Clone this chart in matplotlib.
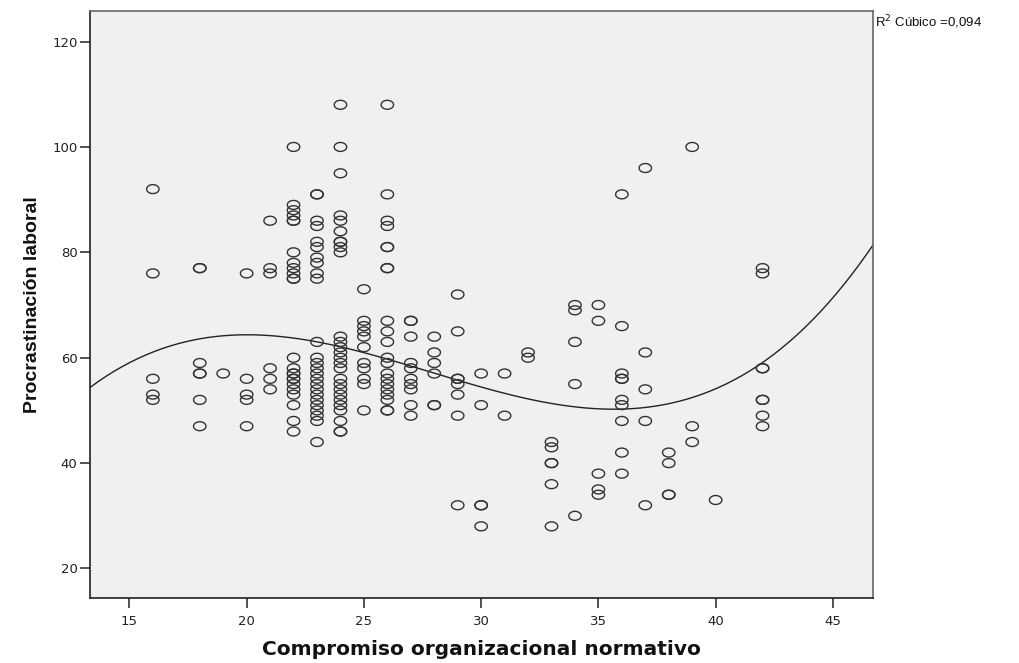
import numpy as np
import matplotlib
matplotlib.use("Agg")
import matplotlib.pyplot as plt
from matplotlib.path import Path

# ---- data ----
x16 = [92, 76, 56, 53, 52]
x18 = [77, 77, 59, 57, 57, 52, 47]
x19 = [57]
x20 = [76, 56, 53, 52, 47]
x21 = [86, 77, 76, 58, 56, 54]
x22 = [100, 89, 88, 87, 86, 86, 80, 78, 77, 76, 75, 75, 60, 58, 57, 57, 56, 56, 55, 54, 53, 51, 48, 46]
x23 = [91, 91, 86, 85, 82, 81, 79, 78, 76, 75, 63, 60, 59, 58, 57, 56, 55, 54, 53, 52, 51, 50, 49, 48, 44]
x24 = [108, 100, 95, 87, 86, 84, 82, 82, 81, 80, 64, 63, 62, 61, 60, 59, 58, 56, 55, 54, 53, 52, 51, 50, 48, 46, 46]
x25 = [73, 67, 66, 65, 64, 62, 59, 58, 56, 55, 50]
x26 = [108, 91, 86, 85, 81, 81, 77, 77, 67, 65, 63, 60, 59, 57, 56, 55, 54, 53, 52, 50, 50]
x27 = [67, 67, 64, 59, 58, 56, 55, 54, 51, 49]
x28 = [64, 61, 59, 57, 51, 51]
x29 = [72, 65, 56, 56, 55, 53, 49, 32]
x30 = [57, 51, 32, 32, 28]
x31 = [57, 49]
x32 = [61, 60]
x33 = [44, 43, 40, 40, 36, 28]
x34 = [70, 69, 63, 55, 30]
x35 = [70, 67, 38, 35, 34]
x36 = [91, 66, 57, 56, 56, 52, 51, 48, 42, 38]
x37 = [96, 61, 54, 48, 32]
x38 = [42, 40, 34, 34]
x39 = [100, 47, 44]
x40 = [33]
x42 = [77, 76, 58, 58, 52, 52, 49, 47]

columns = {16: x16, 18: x18, 19: x19, 20: x20, 21: x21, 22: x22, 23: x23, 24: x24,
           25: x25, 26: x26, 27: x27, 28: x28, 29: x29, 30: x30, 31: x31, 32: x32,
           33: x33, 34: x34, 35: x35, 36: x36, 37: x37, 38: x38, 39: x39, 40: x40, 42: x42}

# points
curve_x = [13.75, 15.88, 18.0, 19.72, 23.98, 27.4, 28.68, 31.66, 35.2, 40.2, 44.9, 46.76]
curve_y = [55.8, 60.8, 63.5, 64.4, 61.8, 58.3, 56.3, 52.3, 50.2, 54.5, 70.9, 81.7]

x_ticks = [15, 20, 25, 30, 35, 40, 45]
y_ticks = [20, 40, 60, 80, 100, 120]
x_label = "Compromiso organizacional normativo"
y_label = "Procrastinación laboral"
r2_label = "R$^2$ Cúbico =0,094"

xs = np.concatenate([[k] * len(v) for k, v in columns.items()]).astype(float)
ys = np.concatenate([v for v in columns.values()]).astype(float)

XMIN, XMAX = 13.32, 46.71
YMIN, YMAX = 14.4, 125.8

# ---- figure ----
fig = plt.figure(figsize=(10.2, 6.63), dpi=100)
fig.patch.set_facecolor("white")
ax = fig.add_axes([90 / 1020, 65 / 663, (873 - 90) / 1020, (598 - 11) / 663])
ax.set_facecolor("#F0F0F0")

# elliptical open marker (wider than tall)
t = np.linspace(0, 2 * np.pi, 60)
ell = Path(np.column_stack([np.cos(t), 0.72 * np.sin(t)]), closed=True)

ax.scatter(xs, ys, marker=ell, s=80, facecolors="none", edgecolors="#333333",
           linewidths=1.0, zorder=3)

# cubic fit line
coef = np.polyfit(curve_x, curve_y, 3)
xx = np.linspace(XMIN, XMAX, 300)
ax.plot(xx, np.polyval(coef, xx), color="#222222", lw=1.0, zorder=2)

ax.set_xlim(XMIN, XMAX)
ax.set_ylim(YMIN, YMAX)
ax.set_xticks(x_ticks)
ax.set_yticks(y_ticks)
ax.tick_params(direction="out", length=7, width=1.3, color="#444444",
               labelsize=9.5, labelcolor="#222222")
for lab in ax.get_xticklabels() + ax.get_yticklabels():
    lab.set_fontfamily("DejaVu Sans")
ax.tick_params(axis="x", pad=5)
ax.tick_params(axis="y", pad=2)
for side in ["top", "right"]:
    ax.spines[side].set_color("#666666")
    ax.spines[side].set_linewidth(1.2)
for side in ["left", "bottom"]:
    ax.spines[side].set_color("#222222")
    ax.spines[side].set_linewidth(1.2)

ax.set_xlabel(x_label, fontsize=14.5, fontweight="bold", family="DejaVu Sans",
              labelpad=9, color="#111111")
ax.set_ylabel(y_label, fontsize=14, fontweight="bold",
              family=["Liberation Sans Narrow", "Liberation Sans"], labelpad=8,
              color="#111111")

fig.text(875 / 1020, 1 - 22 / 663, r2_label, fontsize=9.5, family="Liberation Sans",
         ha="left", va="center", color="#111111")

fig.savefig("out.png", dpi=100)
